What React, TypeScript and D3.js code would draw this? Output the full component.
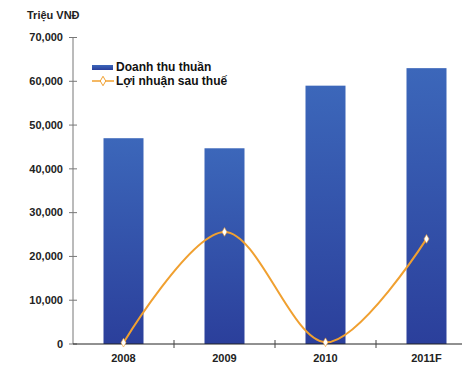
import React, { useRef, useEffect } from 'react';
import * as d3 from 'd3';

const years = ['2008', '2009', '2010', '2011F'];
const revenue = [47000, 44700, 59000, 63000];
const profit = [300, 25600, 400, 24000];
const yTicks = [0, 10000, 20000, 30000, 40000, 50000, 60000, 70000];

const W = 462;
const H = 370;

const App = () => {
  const ref = useRef<SVGSVGElement>(null);

  useEffect(() => {
    const svg = d3.select(ref.current);
    svg.selectAll('*').remove();
    const font = '"Liberation Sans", Arial, sans-serif';

    const x = d3.scaleBand().domain(years).range([73, 477]);
    const y = d3.scaleLinear().domain([0, 70000]).range([344, 37.5]);

    const defs = svg.append('defs');
    const grad = defs.append('linearGradient')
      .attr('id', 'barGrad')
      .attr('x1', 0).attr('y1', 0).attr('x2', 0).attr('y2', 1);
    grad.append('stop').attr('offset', '0%').attr('stop-color', '#3c67ba');
    grad.append('stop').attr('offset', '100%').attr('stop-color', '#2b3f9b');
    const lgrad = defs.append('linearGradient')
      .attr('id', 'legGrad')
      .attr('x1', 0).attr('y1', 0).attr('x2', 0).attr('y2', 1);
    lgrad.append('stop').attr('offset', '0%').attr('stop-color', '#3c67ba');
    lgrad.append('stop').attr('offset', '100%').attr('stop-color', '#2b3f9b');

    // bars
    svg.selectAll('.bar')
      .data(revenue)
      .enter().append('rect')
      .attr('x', (d, i) => x(years[i])! + x.bandwidth() / 2 - 20)
      .attr('y', d => y(d))
      .attr('width', 40)
      .attr('height', d => y(0) - y(d))
      .attr('fill', 'url(#barGrad)');

    // y axis
    svg.append('line')
      .attr('x1', 73).attr('x2', 73)
      .attr('y1', y(70000)).attr('y2', y(0))
      .attr('stroke', '#777').attr('stroke-width', 1);
    yTicks.forEach(t => {
      svg.append('line')
        .attr('x1', 69).attr('x2', 77)
        .attr('y1', y(t)).attr('y2', y(t))
        .attr('stroke', '#777');
      svg.append('text')
        .attr('x', 63).attr('y', y(t))
        .attr('dy', '0.35em')
        .attr('text-anchor', 'end')
        .attr('font-family', font)
        .attr('font-weight', 'bold')
        .attr('font-size', 11)
        .attr('fill', '#222')
        .text(d3.format(',')(t));
    });

    // x axis
    svg.append('line')
      .attr('x1', 73).attr('x2', W)
      .attr('y1', y(0)).attr('y2', y(0))
      .attr('stroke', '#222').attr('stroke-width', 1);
    years.slice(1).forEach(c => {
      svg.append('line')
        .attr('x1', x(c)!).attr('x2', x(c)!)
        .attr('y1', y(0) - 4).attr('y2', y(0) + 4)
        .attr('stroke', '#444');
    });
    years.forEach(c => {
      svg.append('text')
        .attr('x', x(c)! + x.bandwidth() / 2)
        .attr('y', 362)
        .attr('text-anchor', 'middle')
        .attr('font-family', font)
        .attr('font-weight', 'bold')
        .attr('font-size', 11)
        .attr('fill', '#222')
        .text(c);
    });

    // profit line
    const line = d3.line<number>()
      .x((d, i) => x(years[i])! + x.bandwidth() / 2)
      .y(d => y(d))
      .curve(d3.curveCardinal.tension(0));
    svg.append('path')
      .attr('d', line(profit))
      .attr('fill', 'none')
      .attr('stroke', '#f0a030')
      .attr('stroke-width', 2);

    svg.selectAll('.pt')
      .data(profit)
      .enter().append('path')
      .attr('d', d3.symbol(d3.symbolDiamond, 22)())
      .attr('transform', (d, i) => `translate(${x(years[i])! + x.bandwidth() / 2},${y(d)})`)
      .attr('fill', '#fff')
      .attr('stroke', '#f0a030')
      .attr('stroke-width', 0.6);

    // title
    svg.append('text')
      .attr('x', 27).attr('y', 19)
      .attr('font-family', font)
      .attr('font-weight', 'bold')
      .attr('font-size', 11)
      .attr('fill', '#222')
      .text('Triệu VNĐ');

    // legend
    svg.append('rect')
      .attr('x', 92).attr('y', 65)
      .attr('width', 21).attr('height', 5)
      .attr('fill', 'url(#legGrad)');
    svg.append('text')
      .attr('x', 116).attr('y', 67)
      .attr('dy', '0.35em')
      .attr('font-family', font)
      .attr('font-weight', 'bold')
      .attr('font-size', 12)
      .attr('fill', '#111')
      .text('Doanh thu thuần');
    svg.append('line')
      .attr('x1', 92).attr('x2', 114)
      .attr('y1', 81).attr('y2', 81)
      .attr('stroke', '#f0a030').attr('stroke-width', 1.5);
    svg.append('path')
      .attr('d', d3.symbol(d3.symbolDiamond, 26)())
      .attr('transform', 'translate(103,81)')
      .attr('fill', '#fff')
      .attr('stroke', '#f0a030')
      .attr('stroke-width', 1);
    svg.append('text')
      .attr('x', 116).attr('y', 81)
      .attr('dy', '0.35em')
      .attr('font-family', font)
      .attr('font-weight', 'bold')
      .attr('font-size', 12)
      .attr('fill', '#111')
      .text('Lợi nhuận sau thuế');
  }, []);

  return (
    <svg
      ref={ref}
      width={W}
      height={H}
      style={{ position: 'absolute', left: 0, top: 0, background: '#fff' }}
    ></svg>
  );
};

export default App;
